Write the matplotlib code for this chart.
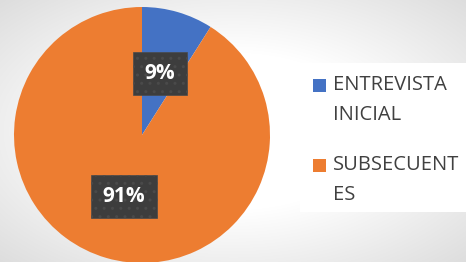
import matplotlib
matplotlib.use("Agg")
import matplotlib.pyplot as plt
import numpy as np
from matplotlib.patches import Rectangle

# data
categories = ["ENTREVISTA\nINICIAL", "SUBSECUENT\nES"]
values = [9, 91]
colors = ["#4472C4", "#ED7D31"]

plt.rcParams['font.family'] = ['Open Sans', 'DejaVu Sans']

W, H = 466, 262
fig = plt.figure(figsize=(W / 100, H / 100), dpi=100)

# soft vignette background
bg = fig.add_axes([0, 0, 1, 1])
yy, xx = np.mgrid[0:H, 0:W]
d = np.sqrt(((xx - W / 2) / (W / 2)) ** 2 + ((yy - H / 2) / (H / 2)) ** 2)
shade = 1 - 0.13 * np.clip(d - 0.6, 0, None) / 0.8
bg.imshow(np.dstack([shade] * 3), extent=[0, W, 0, H], aspect='auto')
bg.axis('off')

# pie
cx, cy, r = 142, 135, 128
ax = fig.add_axes([(cx - r) / W, (H - cy - r) / H, 2 * r / W, 2 * r / H])
wedges, texts, autotexts = ax.pie(values, colors=colors, startangle=90, counterclock=False,
                                  autopct='%1.0f%%', pctdistance=0.5,
                                  wedgeprops=dict(linewidth=0))
for t in autotexts:
    t.set_color('white')
    t.set_fontsize(15)
    t.set_fontweight('bold')
    t.set_bbox(dict(boxstyle='square,pad=0.55', facecolor='#3d3d3d', edgecolor='#4a4a4a',
                    linewidth=0.5, hatch='..'))
ax.set_xlim(-1, 1)
ax.set_ylim(-1, 1)
ax.axis('off')

# legend box (drawn by hand so the marker sits on the first line)
lg = fig.add_axes([300 / W, (H - 212) / H, 166 / W, 149 / H])
lg.set_facecolor('white')
lg.set_xlim(300, 466)
lg.set_ylim(212, 63)
lg.set_xticks([])
lg.set_yticks([])
for s in lg.spines.values():
    s.set_visible(False)

row_top = [85, 165]
for lab, c, y in zip(categories, colors, row_top):
    lg.add_patch(Rectangle((313, y - 6.5), 13, 13, facecolor=c, edgecolor='none'))
    lg.text(333, y - 10, lab, fontsize=14.5, color='#404040', va='top', ha='left',
            linespacing=1.65)

fig.savefig('out.png', dpi=100)
